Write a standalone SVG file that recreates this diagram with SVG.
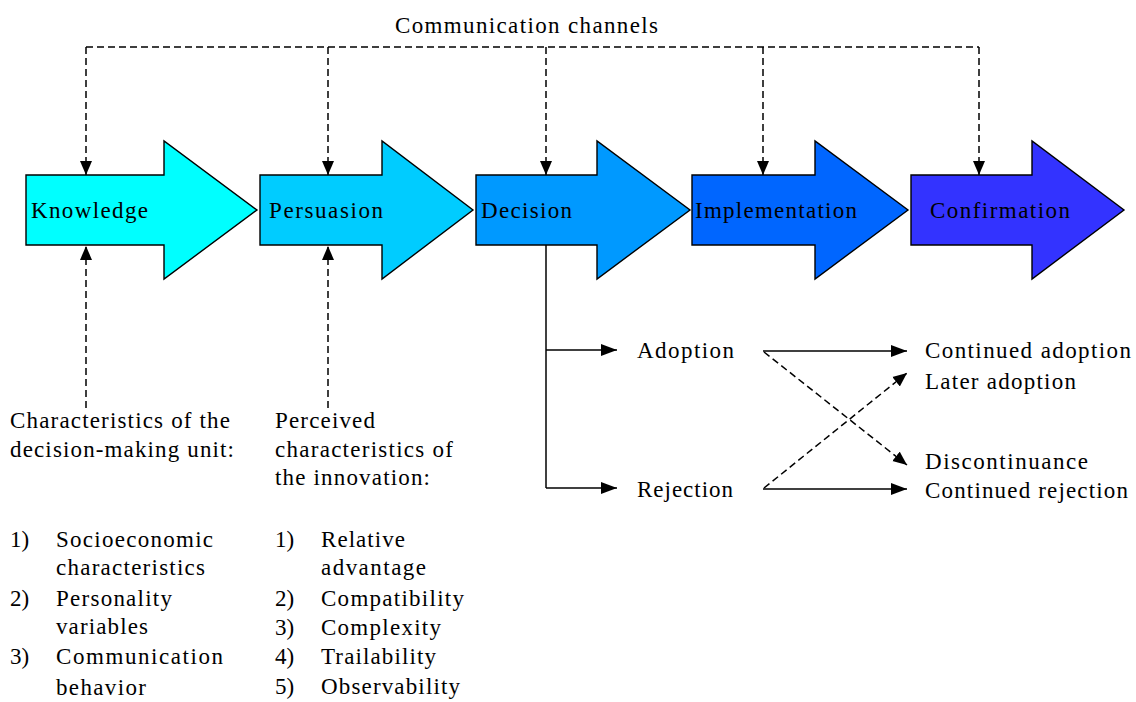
<svg xmlns="http://www.w3.org/2000/svg" width="1136" height="702" viewBox="0 0 1136 702">
<style>
text{font-family:"Liberation Serif","DejaVu Serif","Times New Roman",serif;font-size:23px;fill:#000}
.arr{stroke:#000;stroke-width:1.4;stroke-linejoin:miter}
.dash{fill:none;stroke:#000;stroke-width:1.5;stroke-dasharray:7 4}
.solid{fill:none;stroke:#000;stroke-width:1.5}
</style>
<defs>
<marker id="ah" markerUnits="userSpaceOnUse" markerWidth="17" markerHeight="13" refX="16" refY="6.5" orient="auto">
<path d="M0,0.5 L16,6.5 L0,12.5 z" fill="#000"/>
</marker>
<marker id="ahd" markerUnits="userSpaceOnUse" markerWidth="15" markerHeight="13" refX="14" refY="6.5" orient="auto">
<path d="M0,0.5 L14,6.5 L0,12.5 z" fill="#000"/>
</marker>
</defs>
<rect width="1136" height="702" fill="#fff"/>

<g id="knowledge">
<polygon class="arr" fill="#00FFFF" points="26,175 164,175 164,141 257,210 164,279 164,245 26,245"/>
<text x="31" y="218" textLength="117">Knowledge</text>
</g>
<g id="persuasion">
<polygon class="arr" fill="#00CCFF" points="260,175 382,175 382,141 473,210 382,279 382,245 260,245"/>
<text x="269" y="218" textLength="114">Persuasion</text>
</g>
<g id="decision">
<polygon class="arr" fill="#0099FF" points="476,175 597,175 597,141 690,210 597,279 597,245 476,245"/>
<text x="481" y="218" textLength="91">Decision</text>
</g>
<g id="implementation">
<polygon class="arr" fill="#0066FF" points="692,175 815,175 815,141 908,210 815,279 815,245 692,245"/>
<text x="695" y="218" textLength="162">Implementation</text>
</g>
<g id="confirmation">
<polygon class="arr" fill="#3333FF" points="911,175 1032,175 1032,141 1124,210 1032,279 1032,245 911,245"/>
<text x="930" y="218" textLength="140">Confirmation</text>
</g>

<g id="comm-label">
<text x="395" y="33" textLength="263">Communication channels</text>
</g>

<g id="unit-chars">
<text x="10" y="428" textLength="220">Characteristics of the</text>
<text x="10" y="457" textLength="224">decision-making unit:</text>
<text x="10" y="547">1)</text>
<text x="56" y="547" textLength="157">Socioeconomic</text>
<text x="56" y="575" textLength="149">characteristics</text>
<text x="10" y="606">2)</text>
<text x="56" y="606" textLength="116">Personality</text>
<text x="56" y="634" textLength="92">variables</text>
<text x="10" y="664">3)</text>
<text x="56" y="664" textLength="167">Communication</text>
<text x="56" y="695" textLength="90">behavior</text>
</g>

<g id="innovation-chars">
<text x="275" y="428" textLength="100">Perceived</text>
<text x="275" y="457" textLength="178">characteristics of</text>
<text x="275" y="485" textLength="155">the innovation:</text>
<text x="275" y="547">1)</text>
<text x="321" y="547" textLength="84">Relative</text>
<text x="321" y="575" textLength="105">advantage</text>
<text x="275" y="606">2)</text>
<text x="321" y="606" textLength="143">Compatibility</text>
<text x="275" y="635">3)</text>
<text x="321" y="635" textLength="120">Complexity</text>
<text x="275" y="664">4)</text>
<text x="321" y="664" textLength="115">Trailability</text>
<text x="275" y="694">5)</text>
<text x="321" y="694" textLength="139">Observability</text>
</g>

<g id="adoption"><text x="637" y="358" textLength="97">Adoption</text></g>
<g id="rejection"><text x="637" y="497" textLength="96">Rejection</text></g>
<g id="continued-adoption"><text x="925" y="358" textLength="206">Continued adoption</text></g>
<g id="later-adoption"><text x="925" y="389" textLength="151">Later adoption</text></g>
<g id="discontinuance"><text x="925" y="469" textLength="163">Discontinuance</text></g>
<g id="continued-rejection"><text x="925" y="498" textLength="203">Continued rejection</text></g>

<g id="connectors">
<path class="dash" d="M86,47 H979"/>
<path class="dash" d="M86,47 V175" marker-end="url(#ahd)"/>
<path class="dash" d="M328,47 V175" marker-end="url(#ahd)"/>
<path class="dash" d="M546,47 V175" marker-end="url(#ahd)"/>
<path class="dash" d="M763,47 V175" marker-end="url(#ahd)"/>
<path class="dash" d="M979,47 V175" marker-end="url(#ahd)"/>
<path class="dash" d="M86,408 V246" marker-end="url(#ahd)"/>
<path class="dash" d="M328,408 V246" marker-end="url(#ahd)"/>
<path class="solid" d="M546,245 V488"/>
<path class="solid" d="M546,350 H617" marker-end="url(#ah)"/>
<path class="solid" d="M546,488 H617" marker-end="url(#ah)"/>
<path class="solid" d="M763,351 H907" marker-end="url(#ah)"/>
<path class="solid" d="M763,489 H907" marker-end="url(#ah)"/>
<path class="dash" d="M764,352 L907,465" marker-end="url(#ahd)"/>
<path class="dash" d="M764,488 L907,373" marker-end="url(#ahd)"/>
</g>
</svg>
